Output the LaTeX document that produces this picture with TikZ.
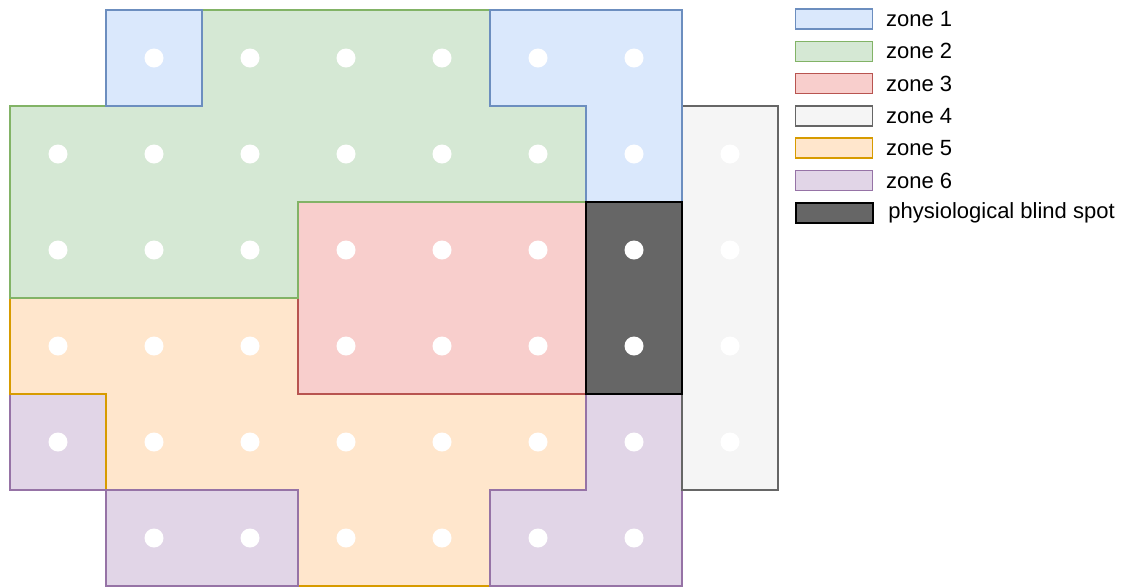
\documentclass[tikz,border=0pt]{standalone}
\usepackage{fontspec}
\setmainfont{Liberation Sans}
\usepackage{tikz}
\usetikzlibrary{positioning}
\definecolor{blueline}{HTML}{6C8EBF}
\definecolor{bluefill}{HTML}{DAE8FC}
\definecolor{greenline}{HTML}{82B366}
\definecolor{greenfill}{HTML}{D5E8D4}
\definecolor{redline}{HTML}{B85450}
\definecolor{redfill}{HTML}{F8CECC}
\definecolor{greyline}{HTML}{666666}
\definecolor{greyfill}{HTML}{F5F5F5}
\definecolor{orangeline}{HTML}{D79B00}
\definecolor{orangefill}{HTML}{FFE6CC}
\definecolor{purpleline}{HTML}{9673A6}
\definecolor{purplefill}{HTML}{E1D5E7}
\definecolor{spotfill}{HTML}{666666}
\tikzset{
  zone/.style={line width=1.1pt, line join=miter},
  spot/.style={line width=1.5pt, draw=black, fill=spotfill},
  legbox/.style={rectangle, minimum width=57.75pt, minimum height=15pt,
    inner sep=0pt, line width=1.1pt},
  legtext/.style={inner sep=0pt, anchor=west,
    font=\fontsize{16.5}{20}\selectfont}
}
\begin{document}
\begin{tikzpicture}[x=0.75pt, y=-0.75pt]
  \useasboundingbox (0,0) rectangle (1138,587);
  % zone 6 (left)
  \draw[zone, draw=purpleline, fill=purplefill] (10,394) -- (106,394) -- (106,490) -- (10,490) -- cycle;
  % zone 5
  \draw[zone, draw=orangeline, fill=orangefill] (10,298) -- (298,298) -- (298,394) -- (586,394)
    -- (586,490) -- (490,490) -- (490,586) -- (298,586) -- (298,490) -- (106,490) -- (106,394)
    -- (10,394) -- cycle;
  % zone 6 (bottom)
  \draw[zone, draw=purpleline, fill=purplefill] (106,490) -- (298,490) -- (298,586) -- (106,586) -- cycle;
  \draw[zone, draw=purpleline, fill=purplefill] (586,394) -- (682,394) -- (682,586) -- (490,586)
    -- (490,490) -- (586,490) -- cycle;
  % zone 4
  \draw[zone, draw=greyline, fill=greyfill] (682,106) rectangle (778,490);
  % zone 3
  \draw[zone, draw=redline, fill=redfill] (298,202) rectangle (586,394);
  % zone 2
  \draw[zone, draw=greenline, fill=greenfill] (202,10) -- (490,10) -- (490,106) -- (586,106)
    -- (586,202) -- (298,202) -- (298,298) -- (10,298) -- (10,106) -- (202,106) -- cycle;
  % zone 1
  \draw[zone, draw=blueline, fill=bluefill] (106,10) rectangle (202,106);
  \draw[zone, draw=blueline, fill=bluefill] (490,10) -- (682,10) -- (682,202) -- (586,202)
    -- (586,106) -- (490,106) -- cycle;
  % blind spot
  \draw[spot] (586,202) rectangle (682,394);
  % test points
  \foreach \x in {154,250,...,634} {
    \fill[white] (\x,58) circle (9.5);
    \fill[white] (\x,538) circle (9.5);
  }
  \foreach \y in {154,250,...,442}
    \foreach \x in {58,154,...,730}
      \fill[white] (\x,\y) circle (9.5);
  % legend
  \foreach \lab/\fc/\lc [count=\i] in {zone 1/bluefill/blueline, zone 2/greenfill/greenline,
      zone 3/redfill/redline, zone 4/greyfill/greyline, zone 5/orangefill/orangeline,
      zone 6/purplefill/purpleline} {
    \node[legbox, fill=\fc, draw=\lc] (key\i) at (834,{19+32.3*(\i-1)}) {};
    \node[legtext, right=9.5pt of key\i] (lab\i) {\lab};
  }
  \node[legbox, spot] (key7) at (834,212.8) {};
  \node[legtext, right=11pt of key7] (lab7) {physiological blind spot};
\end{tikzpicture}
\end{document}
